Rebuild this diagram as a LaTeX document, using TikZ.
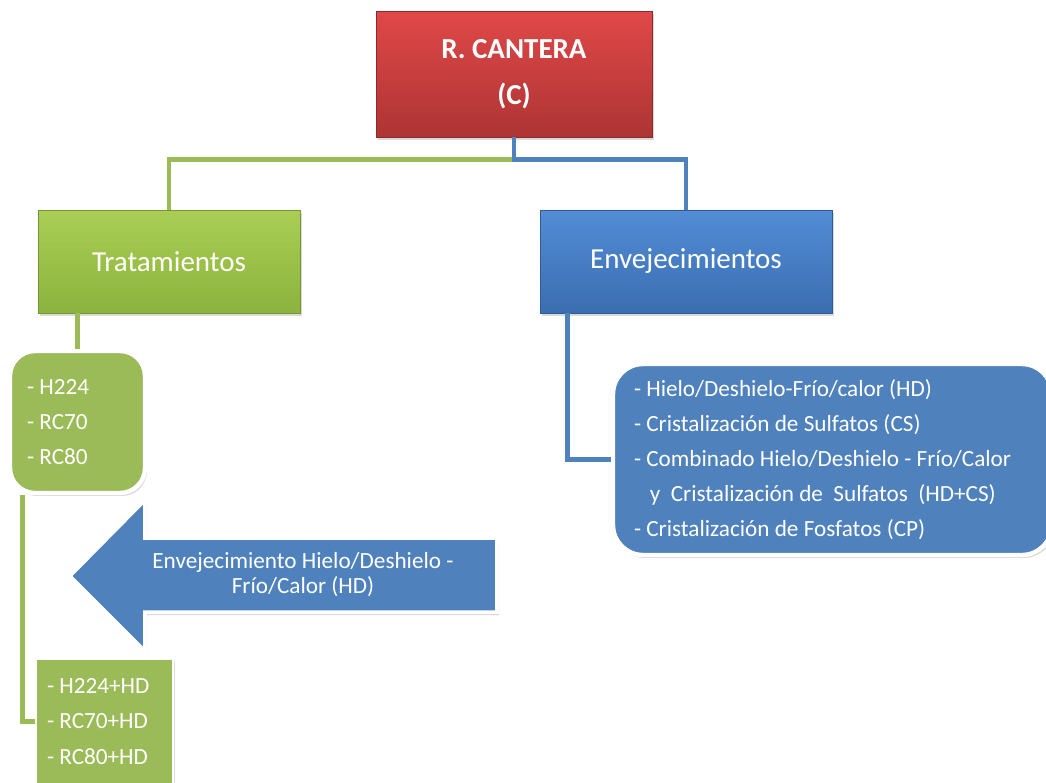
\documentclass[tikz,border=0pt]{standalone}
\usepackage{fontspec}
\setmainfont{Carlito}
\usepackage{tikz}
\usetikzlibrary{shadows}
\definecolor{redtop}{HTML}{E04848}
\definecolor{redbot}{HTML}{AE3434}
\definecolor{redline}{HTML}{8C2A2A}
\definecolor{grntop}{HTML}{AACE55}
\definecolor{grnbot}{HTML}{8BB33D}
\definecolor{grnline}{HTML}{74953A}
\definecolor{grnfill}{HTML}{9BBB59}
\definecolor{blutop}{HTML}{528DD6}
\definecolor{blubot}{HTML}{3B6DB0}
\definecolor{bluline}{HTML}{2F5C96}
\definecolor{blufill}{HTML}{4F81BD}
\tikzset{
  every node/.style = {text=white, inner sep=0pt},
  softshadow/.style = {drop shadow={opacity=0.3, shadow xshift=0.04cm, shadow yshift=-0.06cm}},
  rootbox/.style = {rectangle, draw=redline, top color=redtop, bottom color=redbot,
    softshadow, minimum width=5.52cm, minimum height=2.52cm, align=center,
    font=\fontsize{16.5}{26}\selectfont\bfseries},
  branchbox/.style = {rectangle, draw=#1line, top color=#1top, bottom color=#1bot,
    softshadow, minimum height=2.06cm, font=\fontsize{16.5}{20}\selectfont},
  listbox/.style = {rectangle, rounded corners=0.5cm, draw=white, line width=2.5pt,
    fill=#1fill, softshadow, align=flush left, font=\fontsize{13.2}{20}\selectfont},
  plainlist/.style = {rectangle, draw=white, line width=1.5pt, fill=grnfill,
    softshadow, align=flush left, font=\fontsize{13.2}{20}\selectfont},
  grnconn/.style = {draw=grnfill, line width=2.8pt},
  bluconn/.style = {draw=blufill, line width=2.8pt},
}

\begin{document}
\begin{tikzpicture}[x=0.02cm, y=-0.02cm]
  \clip (0,0) rectangle (1046,782);

  \fill[blufill, draw=white, line width=2pt, softshadow]
    (70,576) -- (145,500) -- (145,538) -- (497,538) -- (497,612)
    -- (145,612) -- (145,651) -- cycle;
  \node[align=center, font=\fontsize{13.2}{14.2}\selectfont] (hdarrow) at (303,575)
    {Envejecimiento Hielo/Deshielo -\\Frío/Calor (HD)};

  \node[rootbox] (cantera) at (514,74) {R. CANTERA\\(C)};
  \node[branchbox=grn, minimum width=5.24cm] (trat) at (169,261.5) {Tratamientos};
  \node[branchbox=blu, minimum width=5.84cm] (envej) at (686,261.5) {Envejecimientos};

  \node[listbox=grn, minimum width=2.7cm, minimum height=2.84cm, text width=2.02cm]
    (tratlist) at (77.5,422) {- H224\\- RC70\\- RC80};
  \node[plainlist, minimum width=2.74cm, minimum height=2.5cm, text width=2.3cm]
    (hdlist) at (104.5,721.5) {- H224+HD\\- RC70+HD\\- RC80+HD};
  \node[listbox=blu, rounded corners=0.6cm, minimum width=8.78cm, minimum height=3.82cm,
    text width=7.94cm] (envlist) at (832.5,459.5)
    {- Hielo/Deshielo-Frío/calor (HD)\\
     - Cristalización de Sulfatos (CS)\\
     - Combinado Hielo/Deshielo - Frío/Calor\\
     \hspace*{9pt}y\ \ Cristalización de\ \ Sulfatos\ \ (HD+CS)\\
     - Cristalización de Fosfatos (CP)};

  \draw[grnconn] (cantera.south) -- ++(0,22) -| (trat.north);
  \draw[bluconn] (cantera.south) -- ++(0,22) -| (envej.north);
  \draw[grnconn] (tratlist.north |- trat.south) -- (tratlist.north);
  \draw[grnconn] ([xshift=0.3cm]tratlist.south west) |- (hdlist.west);
  \draw[bluconn] ([xshift=0.56cm]envej.south west) |- (envlist.west);
\end{tikzpicture}
\end{document}
